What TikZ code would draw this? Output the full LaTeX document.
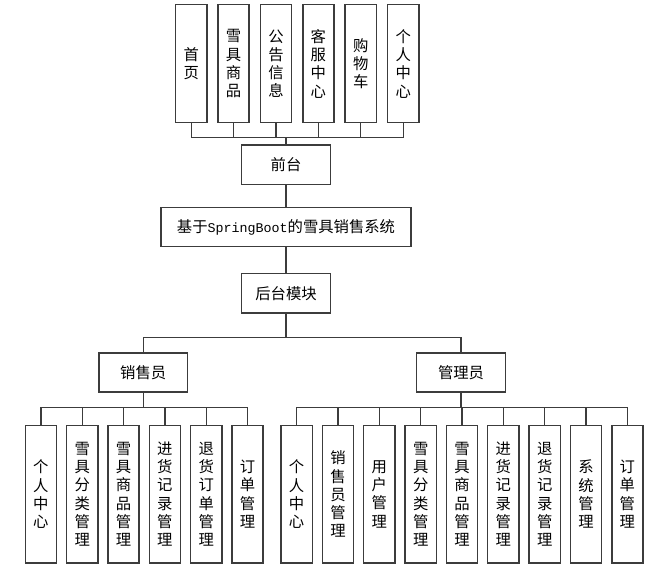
\documentclass[tikz,border=0pt]{standalone}
\usepackage{fontspec}
\setmainfont{Noto Sans CJK SC}
\newfontfamily\latinmono{Liberation Mono}
\usetikzlibrary{positioning}
\definecolor{c1}{HTML}{000000}
\definecolor{c2}{HTML}{3C3C3C}

\begin{document}
\begin{tikzpicture}[
    x=0.75pt, y=-0.75pt,
    every node/.style={font=\fontsize{11.5}{13.7}\selectfont, text=c1},
    box/.style={rectangle, draw=c2, fill=white, line width=1.1pt, inner sep=0pt},
    hbox/.style={box, minimum width=66.5pt, minimum height=29.5pt},
    vbox/.style={box, align=center, minimum width=23.4pt},
    link/.style={draw=c2, line width=1pt},
]
\useasboundingbox (0,0) rectangle (669,579);

% upper part: front pages
\foreach \t [count=\i] in {{首\\页}, {雪\\具\\商\\品}, {公\\告\\信\\息},
                           {客\\服\\中\\心}, {购\\物\\车}, {个\\人\\中\\心}}{
    \node[vbox, minimum height=88.5pt] (top\i) at ({191.2 + (\i-1)*42.4}, 63.7) {\t};
}
\node[hbox] (front) at (286, 164.8) {前台};
\node[box, minimum width=187.7pt, minimum height=29.5pt] (sys) at (286, 227)
    {基于{\latinmono\fontsize{10}{12}\selectfont SpringBoot}的雪具销售系统};
\node[hbox] (back) at (286, 293.3) {后台模块};

\coordinate (topbus) at (286, 137.7);
\foreach \i in {1,...,6}{
    \draw[link] (top\i.south) |- (topbus) -- (front.north);
}
\draw[link] (front.south) -- (sys.north);
\draw[link] (sys.south) -- (back.north);

% lower part: the two roles
\node[hbox] (sale) at (143.2, 372.5) {销售员};
\node[hbox] (admin) at (461, 372.5) {管理员};
\coordinate (midbus) at (286, 337.7);
\draw[link] (back.south) -- (midbus) -| (sale.north);
\draw[link] (midbus) -| (admin.north);

% seller modules
\coordinate (salebus) at (143.2, 407.3);
\foreach \t [count=\i] in {{个\\人\\中\\心}, {雪\\具\\分\\类\\管\\理}, {雪\\具\\商\\品\\管\\理},
                           {进\\货\\记\\录\\管\\理}, {退\\货\\订\\单\\管\\理}, {订\\单\\管\\理}}{
    \node[vbox, minimum height=103.2pt] (s\i) at ({40.85 + (\i-1)*41.35}, 494.2) {\t};
    \draw[link] (s\i.north) |- (salebus) -- (sale.south);
}

% admin modules
\coordinate (adminbus) at (461, 407.3);
\foreach \t [count=\i] in {{个\\人\\中\\心}, {销\\售\\员\\管\\理}, {用\\户\\管\\理},
                           {雪\\具\\分\\类\\管\\理}, {雪\\具\\商\\品\\管\\理}, {进\\货\\记\\录\\管\\理},
                           {退\\货\\记\\录\\管\\理}, {系\\统\\管\\理}, {订\\单\\管\\理}}{
    \node[vbox, minimum height=103.2pt] (a\i) at ({296.65 + (\i-1)*41.34}, 494.2) {\t};
    \draw[link] (a\i.north) |- (adminbus) -- (admin.south);
}
\end{tikzpicture}
\end{document}
